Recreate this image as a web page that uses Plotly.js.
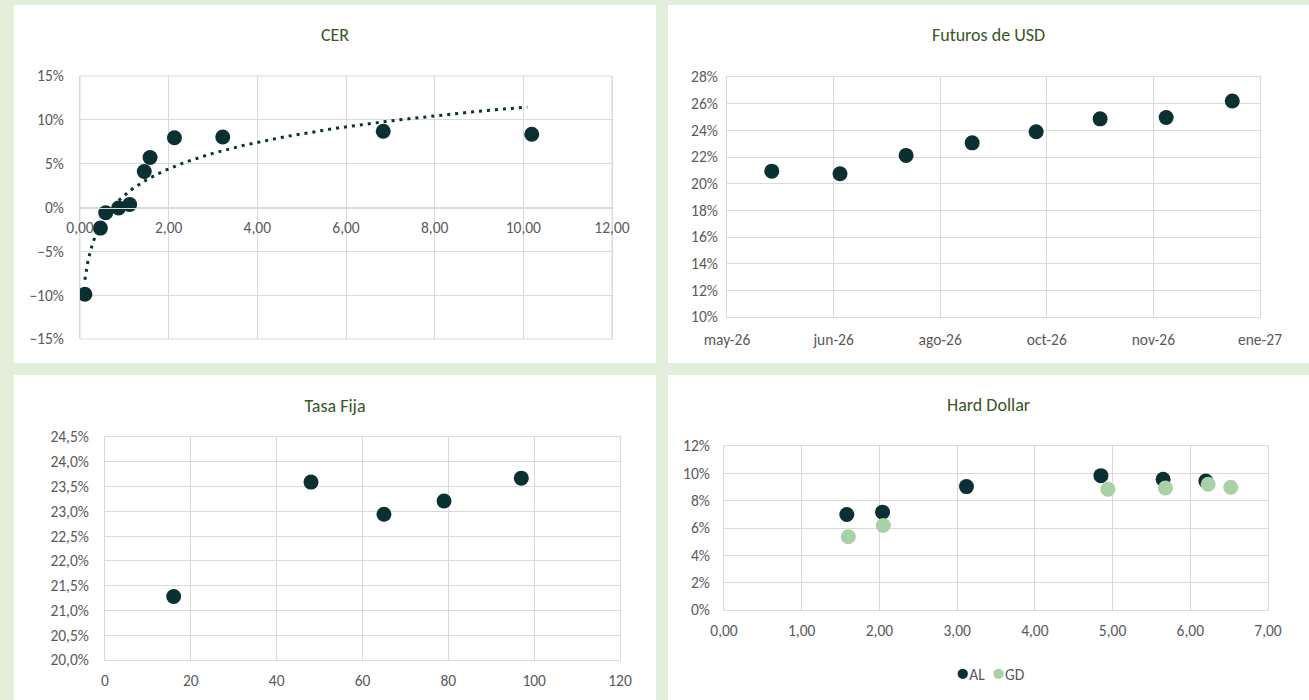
<!DOCTYPE html>
<html>
<head>
<meta charset="utf-8">
<script src="https://cdn.plot.ly/plotly-3.0.1.min.js"></script>
<style>
  html, body { margin:0; padding:0; width:1309px; height:700px; overflow:hidden; background:#e2efda; }
  .panel { position:absolute; background:#ffffff; }
</style>
</head>
<body>
<div id="cer" class="panel" style="left:14px; top:5px; width:642px; height:358px;"></div>
<div id="fut" class="panel" style="left:668px; top:5px; width:641px; height:358px;"></div>
<div id="tf" class="panel" style="left:14px; top:375px; width:642px; height:325px;"></div>
<div id="hd" class="panel" style="left:668px; top:375px; width:641px; height:325px;"></div>
<script>
// ---------- DATA ----------
// CER: duration vs TIR
const cerDuration = [0.11, 0.46, 0.58, 0.87, 1.12, 1.45, 1.58, 2.13, 3.22, 6.84, 10.19];
const cerTir = [-0.099, -0.0235, -0.006, -0.0005, 0.0035, 0.041, 0.057, 0.0795, 0.0805, 0.087, 0.0835];

// Futuros de USD
const futDates = ['2026-05-29', '2026-06-30', '2026-07-31', '2026-08-31', '2026-09-30', '2026-10-30', '2026-11-30', '2026-12-31'];
const futRates = [0.2094, 0.2074, 0.2212, 0.2306, 0.2389, 0.2486, 0.2496, 0.2620];
const futTickVals = ['2026-05-08', '2026-06-27', '2026-08-16', '2026-10-05', '2026-11-24', '2027-01-13'];
const futTickText = ['may-26', 'jun-26', 'ago-26', 'oct-26', 'nov-26', 'ene-27'];

// Tasa Fija
const tfDays = [16, 48, 65, 79, 97];
const tfRates = [0.2128, 0.2359, 0.2294, 0.2321, 0.2367];

// Hard Dollar
const hdNames = ['AL', 'GD'];
const alDuration = [1.58, 2.04, 3.12, 4.85, 5.65, 6.20];
const alTir = [0.0699, 0.0716, 0.0903, 0.0983, 0.0957, 0.0944];
const gdDuration = [1.60, 2.05, 4.94, 5.68, 6.23, 6.52];
const gdTir = [0.0536, 0.0618, 0.0884, 0.0893, 0.0920, 0.0898];

// ---------- STYLE ----------
const FONT = 'Carlito, Calibri, Lato, "Liberation Sans", sans-serif';
const DARK = '#0a3034';
const LIGHT = '#a9d1a6';
const GRID = '#d9d9d9';
const TICK = '#595959';
const TITLE = '#375623';
const TICKSIZE = 15.5;
const MSIZE = 15;
const config = {staticPlot: true, displayModeBar: false};

function axisBase(extra) {
  return Object.assign({
    showgrid: true, gridcolor: GRID, gridwidth: 1,
    zeroline: false, showline: true, linecolor: GRID, linewidth: 1, mirror: true,
    tickfont: {family: FONT, size: TICKSIZE, color: TICK},
    ticks: 'outside', tickcolor: 'rgba(0,0,0,0)', fixedrange: true
  }, extra);
}
function titleObj(text, panelH, offset) {
  return {text: text, font: {family: FONT, size: 18, color: TITLE},
          x: 0.5, xref: 'container', xanchor: 'center',
          y: 1 - offset / panelH, yref: 'container', yanchor: 'middle'};
}

// ---------- CER ----------
// logarithmic trendline (least squares on ln(x))
(function () {
  const n = cerDuration.length;
  const lx = cerDuration.map(v => Math.log(v));
  const mx = lx.reduce((a, b) => a + b, 0) / n;
  const my = cerTir.reduce((a, b) => a + b, 0) / n;
  let sxy = 0, sxx = 0;
  for (let i = 0; i < n; i++) { sxy += (lx[i] - mx) * (cerTir[i] - my); sxx += (lx[i] - mx) * (lx[i] - mx); }
  const b = sxy / sxx, a = my - b * mx;
  const xmin = Math.min(...cerDuration), xmax = Math.max(...cerDuration) - 0.1;
  const tx = [], ty = [];
  for (let i = 0; i <= 200; i++) {
    const x = xmin * Math.pow(xmax / xmin, i / 200);
    tx.push(x); ty.push(a + b * Math.log(x));
  }
  const traces = [
    {x: tx, y: ty, type: 'scatter', mode: 'lines', hoverinfo: 'skip',
     line: {color: DARK, width: 3, dash: '3px,5px'}},
    {x: cerDuration, y: cerTir, type: 'scatter', mode: 'markers',
     marker: {color: DARK, size: MSIZE}}
  ];
  const layout = {
    width: 642, height: 358, paper_bgcolor: '#ffffff', plot_bgcolor: '#ffffff',
    separators: ',.', showlegend: false,
    margin: {l: 66, r: 44, t: 71, b: 24},
    title: titleObj('CER', 358, 30),
    xaxis: axisBase({range: [0, 12], dtick: 2, tick0: 0, tickformat: '.2f',
      anchor: 'free', position: 0.5, mirror: false, ticklen: 6}),
    yaxis: axisBase({range: [-0.15, 0.15], dtick: 0.05, tick0: 0, tickformat: '.0%', ticklen: 12}),
    shapes: [{type: 'rect', xref: 'x domain', yref: 'y domain', x0: 0, x1: 1, y0: 0, y1: 1,
      line: {color: GRID, width: 1}, layer: 'below'}]
  };
  Plotly.newPlot('cer', traces, layout, config);
})();

// ---------- Futuros de USD ----------
Plotly.newPlot('fut', [
  {x: futDates, y: futRates, type: 'scatter', mode: 'markers', marker: {color: DARK, size: MSIZE}}
], {
  width: 641, height: 358, paper_bgcolor: '#ffffff', plot_bgcolor: '#ffffff',
  separators: ',.', showlegend: false,
  margin: {l: 59, r: 49, t: 72, b: 46},
  title: titleObj('Futuros de USD', 358, 30),
  xaxis: axisBase({type: 'date', range: [futTickVals[0], futTickVals[futTickVals.length - 1]],
    tickmode: 'array', tickvals: futTickVals, ticktext: futTickText, ticklen: 8}),
  yaxis: axisBase({range: [0.10, 0.28], dtick: 0.02, tick0: 0, tickformat: '.0%', ticklen: 5})
}, config);

// ---------- Tasa Fija ----------
Plotly.newPlot('tf', [
  {x: tfDays, y: tfRates, type: 'scatter', mode: 'markers', marker: {color: DARK, size: MSIZE}}
], {
  width: 642, height: 325, paper_bgcolor: '#ffffff', plot_bgcolor: '#ffffff',
  separators: ',.', showlegend: false,
  margin: {l: 91, r: 36, t: 62, b: 40},
  title: titleObj('Tasa Fija', 325, 31),
  xaxis: axisBase({range: [0, 120], dtick: 20, tick0: 0, ticklen: 6}),
  yaxis: axisBase({range: [0.20, 0.245], dtick: 0.005, tick0: 0.2, tickformat: '.1%', ticklen: 12})
}, config);

// ---------- Hard Dollar ----------
const hdColors = [DARK, LIGHT];
const legendText = hdNames.map((nm, i) =>
  '<span style="color:' + hdColors[i] + '; font-size:22px">●</span>' + nm).join('&nbsp;&nbsp;');
Plotly.newPlot('hd', [
  {x: alDuration, y: alTir, name: hdNames[0], type: 'scatter', mode: 'markers', marker: {color: DARK, size: MSIZE}},
  {x: gdDuration, y: gdTir, name: hdNames[1], type: 'scatter', mode: 'markers', marker: {color: LIGHT, size: MSIZE}}
], {
  width: 641, height: 325, paper_bgcolor: '#ffffff', plot_bgcolor: '#ffffff',
  separators: ',.', showlegend: false,
  margin: {l: 56, r: 41, t: 71, b: 90},
  title: titleObj('Hard Dollar', 325, 30),
  annotations: [{text: legendText, xref: 'paper', yref: 'paper', x: 0.49, y: -0.38,
    xanchor: 'center', yanchor: 'middle', showarrow: false,
    font: {family: FONT, size: TICKSIZE, color: TICK}}],
  xaxis: axisBase({range: [0, 7], dtick: 1, tick0: 0, tickformat: '.2f', ticklen: 6}),
  yaxis: axisBase({range: [0, 0.12], dtick: 0.02, tick0: 0, tickformat: '.0%', ticklen: 10})
}, config);
</script>
</body>
</html>
